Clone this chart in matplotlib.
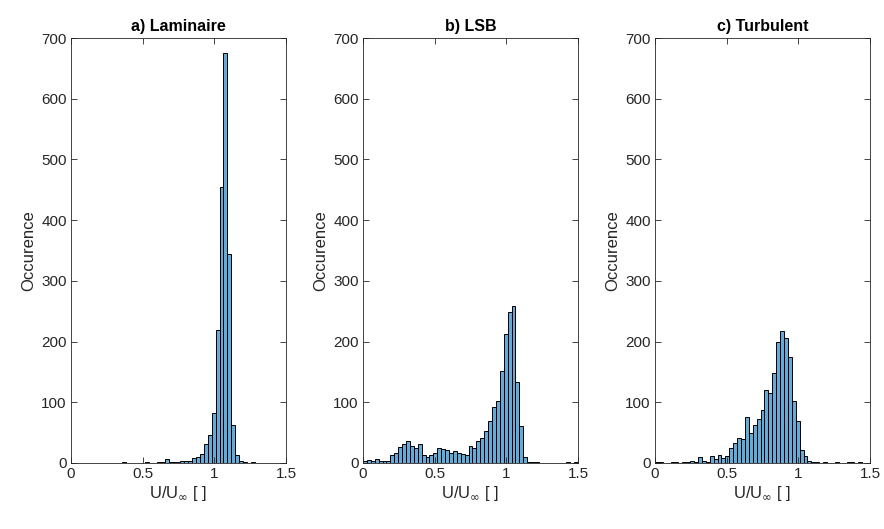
import numpy as np
import matplotlib
matplotlib.use('Agg')
import matplotlib.pyplot as plt

plt.rcParams['font.family'] = ['Liberation Sans', 'DejaVu Sans']
plt.rcParams['mathtext.fontset'] = 'dejavusans'

# 55 bins on [0, 1.5]
n_bins = 55
edges = np.linspace(0, 1.5, n_bins + 1)

counts_laminaire = [0, 0, 0, 0, 0, 0, 0, 0, 0, 0,
                    0, 0, 0, 1, 0, 0, 0, 0, 0, 1,
                    0, 0, 1, 1, 7, 2, 1, 2, 3, 4,
                    4, 8, 10, 15, 32, 46, 82, 219, 455, 676,
                    345, 62, 14, 4, 1, 0, 1, 0, 0, 0,
                    0, 0, 0, 0, 0]

counts_lsb = [4, 5, 3, 6, 3, 4, 4, 13, 16, 26,
              32, 37, 28, 25, 32, 14, 10, 14, 16, 25,
              23, 22, 17, 20, 16, 15, 13, 28, 25, 37,
              41, 53, 69, 92, 102, 151, 212, 248, 259, 133,
              61, 10, 2, 2, 1, 0, 0, 0, 0, 0,
              0, 0, 1, 0, 1]

counts_turbulent = [2, 1, 0, 0, 1, 1, 0, 2, 1, 3,
                    2, 10, 3, 2, 11, 6, 13, 8, 12, 25,
                    33, 41, 40, 76, 50, 62, 73, 87, 120, 116,
                    148, 199, 217, 206, 175, 102, 70, 22, 12, 4,
                    1, 1, 0, 1, 0, 0, 1, 0, 0, 1,
                    1, 0, 1, 0, 0]

titles = ['a) Laminaire', 'b) LSB', 'c) Turbulent']
all_counts = [counts_laminaire, counts_lsb, counts_turbulent]

face = (0.4, 0.668, 0.845)
axcol = (0.15, 0.15, 0.15)

fig = plt.figure(figsize=(8.84, 5.29), dpi=100)
lefts = [71 / 884, 363 / 884, 655 / 884]
bottom = (529 - 463) / 529
height = (463 - 38) / 529
width = 215 / 884

for left, title, counts in zip(lefts, titles, all_counts):
    ax = fig.add_axes([left, bottom, width, height])
    ax.bar(edges[:-1], counts, width=np.diff(edges), align='edge',
           color=face, edgecolor='black', linewidth=0.7)
    ax.set_xlim(0, 1.5)
    ax.set_ylim(0, 700)
    ax.set_xticks([0, 0.5, 1, 1.5])
    ax.set_xticklabels(['0', '0.5', '1', '1.5'])
    ax.set_yticks(range(0, 701, 100))
    ax.tick_params(direction='in', top=True, right=True, length=4,
                   width=0.6, colors=axcol, labelsize=11, pad=3)
    for sp in ax.spines.values():
        sp.set_color(axcol)
        sp.set_linewidth(0.6)
    ax.set_title(title, fontsize=11.5, fontweight='bold', color='black', pad=5)
    ax.set_ylabel('Occurence', fontsize=12, color=axcol, labelpad=4)
    ax.set_xlabel(r'U/U$_{\infty}$ [ ]', fontsize=12, color=axcol, labelpad=2)

fig.savefig('out.png', dpi=100)
